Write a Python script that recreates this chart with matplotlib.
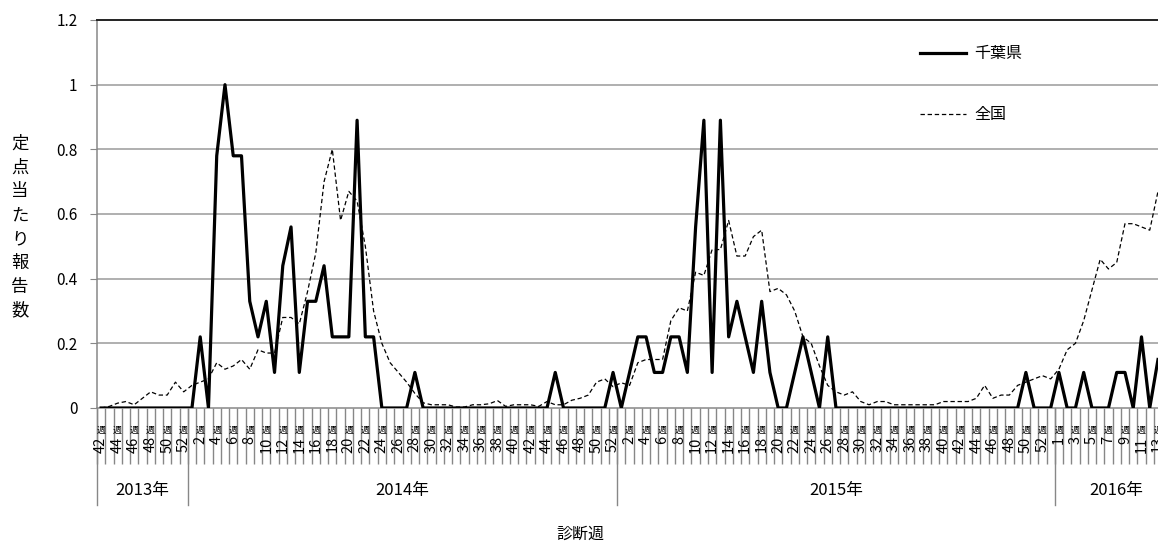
import numpy as np
import matplotlib
matplotlib.use('Agg')
from matplotlib import pyplot as plt

plt.rcParams['font.family'] = ['Noto Sans CJK JP', 'DejaVu Sans']

# 年ごとの週数（2016年は途中まで）
years = ['2013年', '2014年', '2015年', '2016年']
year_weeks = [11, 52, 53, 13]
first_week = [42, 1, 1, 1]

# 千葉県 定点当たり報告数
chiba = [
    # 2013 w42-52
    0, 0, 0, 0, 0, 0, 0, 0, 0, 0, 0,
    # 2014
    0, 0.22, 0, 0.78, 1.0, 0.78, 0.78, 0.33, 0.22, 0.33, 0.11, 0.44, 0.56,
    0.11, 0.33, 0.33, 0.44, 0.22, 0.22, 0.22, 0.89, 0.22, 0.22, 0, 0, 0,
    0, 0.11, 0, 0, 0, 0, 0, 0, 0, 0, 0, 0, 0, 0, 0, 0, 0, 0,
    0.11, 0, 0, 0, 0, 0, 0, 0.11,
    # 2015
    0, 0.11, 0.22, 0.22, 0.11, 0.11, 0.22, 0.22, 0.11, 0.56, 0.89, 0.11, 0.89,
    0.22, 0.33, 0.22, 0.11, 0.33, 0.11, 0, 0, 0.11, 0.22, 0.11, 0, 0.22,
    0, 0, 0, 0, 0, 0, 0, 0, 0, 0, 0, 0, 0, 0, 0, 0, 0, 0, 0, 0, 0, 0, 0,
    0.11, 0, 0, 0,
    # 2016
    0.11, 0, 0, 0.11, 0, 0, 0, 0.11, 0.11, 0, 0.22, 0, 0.15,
]

# 全国 定点当たり報告数
zenkoku = [
    # 2013 w42-52
    0.0, 0.005, 0.015, 0.02, 0.01, 0.03, 0.05, 0.04, 0.04, 0.08, 0.05,
    # 2014
    0.07, 0.08, 0.09, 0.14, 0.12, 0.13, 0.15, 0.12, 0.18, 0.17, 0.17, 0.28, 0.28,
    0.26, 0.36, 0.48, 0.70, 0.80, 0.58, 0.67, 0.64, 0.50, 0.30, 0.20, 0.14,
    0.11, 0.08, 0.045, 0.016, 0.01, 0.01, 0.01, 0.003, 0.003, 0.01, 0.01,
    0.013, 0.023, 0.005, 0.01, 0.01, 0.01, 0.005, 0.02, 0.01, 0.01, 0.024,
    0.03, 0.04, 0.08, 0.09, 0.066,
    # 2015
    0.078, 0.07, 0.14, 0.15, 0.15, 0.15, 0.27, 0.31, 0.30, 0.42, 0.41, 0.49, 0.49,
    0.58, 0.47, 0.47, 0.53, 0.55, 0.36, 0.37, 0.35, 0.30, 0.22, 0.20, 0.13,
    0.07, 0.05, 0.04, 0.05, 0.02, 0.01, 0.02, 0.02, 0.01, 0.01, 0.01, 0.01,
    0.01, 0.01, 0.02, 0.02, 0.02, 0.02, 0.03, 0.07, 0.03, 0.04, 0.04, 0.07,
    0.08, 0.09, 0.10, 0.09,
    # 2016
    0.12, 0.18, 0.20, 0.27, 0.365, 0.46, 0.43, 0.45, 0.57, 0.57, 0.56, 0.55, 0.67,
]

week_no = []
for w0, cnt in zip(first_week, year_weeks):
    week_no += list(range(w0, w0 + cnt))
x = np.arange(len(week_no))

grid_c = '#9a9a9a'
axis_c = '#878787'

fig = plt.figure(figsize=(11.58, 5.43), dpi=100)
ax = fig.add_axes([97 / 1158, 135 / 543, 1061 / 1158, 388 / 543])

ax.plot(x, chiba, color='black', lw=2.3, label='千葉県', zorder=3)
ax.plot(x, zenkoku, color='black', lw=0.9, ls=(0, (3.5, 2.2)), label='全国', zorder=2)

ax.set_xlim(-0.5, len(x) - 1)
ax.set_ylim(0, 1.2)
ax.set_yticks(np.arange(0, 1.21, 0.2))
ax.set_yticklabels(['0', '0.2', '0.4', '0.6', '0.8', '1', '1.2'])
ax.tick_params(axis='y', direction='out', length=5, color=axis_c, pad=9, labelsize=11)
for v in np.arange(0.2, 1.01, 0.2):
    ax.axhline(v, color=grid_c, lw=1.1, zorder=1)

ax.spines['right'].set_visible(False)
ax.spines['top'].set_color('#222222')
ax.spines['top'].set_linewidth(1.4)
ax.spines['left'].set_color(axis_c)
ax.spines['bottom'].set_color(axis_c)
ax.spines['left'].set_linewidth(1.1)
ax.spines['bottom'].set_linewidth(1.1)

# 区切りの目盛線
ax.set_xticks([])
ax.set_xticks(np.arange(-0.5, len(x) - 1, 1), minor=True)
ax.tick_params(axis='x', which='minor', direction='out', length=40, color=axis_c, width=1.0)

# 週ラベル（1週おき）
xt = ax.get_xaxis_transform()
for i, w in enumerate(week_no):
    if i % 2 == 0:
        ax.text(i, -0.058, '週', transform=xt, ha='center', va='center', fontsize=6.5)
        ax.text(i, -0.073, str(w), transform=xt, ha='center', va='top',
                rotation=90, fontsize=10.5)

# 年ラベルと区切り線
start = -0.5
for k, (yr, cnt) in enumerate(zip(years, year_weeks)):
    end = start + cnt
    ax.axvline(start, ymin=-0.25, ymax=0, color=axis_c, lw=1.0, clip_on=False)
    # 2016年は図の右端で切れているので、ラベル位置は少し右に寄せる
    mid = (start + end) / 2 if k < len(years) - 1 else (start + end + 2) / 2
    ax.text(mid, -0.212, yr, transform=xt, ha='center', va='center', fontsize=12)
    start = end

fig.text(580 / 1158, 9 / 543, '診断週', ha='center', va='center', fontsize=11.5)
fig.text(20 / 1158, 316 / 543, '\n'.join('定点当たり報告数'), ha='center', va='center',
         fontsize=12.5, linespacing=1.42)

ax.legend(loc='upper left', bbox_to_anchor=(0.768, 0.955), frameon=False,
          fontsize=11.5, handlelength=2.9, handletextpad=0.5, labelspacing=2.75,
          borderpad=0)

fig.savefig('out.png', dpi=100)
